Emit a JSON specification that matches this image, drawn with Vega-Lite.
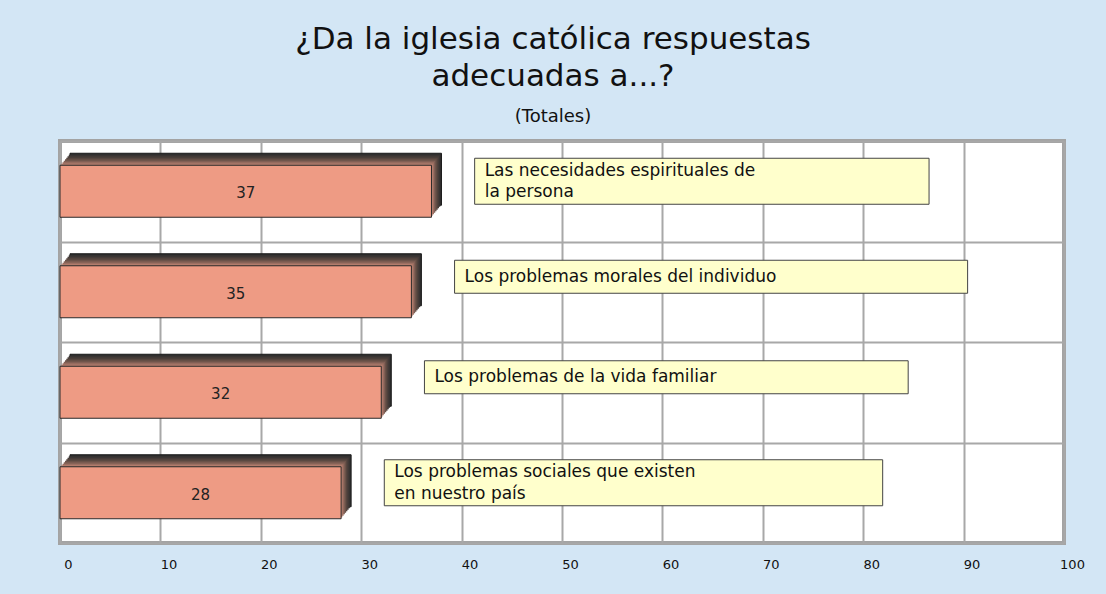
{
  "$schema": "https://vega.github.io/schema/vega-lite/v6.json",
  "width": 1004,
  "height": 402,
  "autosize": "none",
  "padding": {"left": 60, "top": 141, "right": 42, "bottom": 51},
  "background": "#d3e6f5",
  "title": {
    "text": ["¿Da la iglesia católica respuestas", "adecuadas a...?"],
    "subtitle": "(Totales)",
    "anchor": "middle",
    "dx": -9,
    "font": "DejaVu Sans",
    "fontSize": 31,
    "fontWeight": "normal",
    "lineHeight": 37,
    "color": "#111111",
    "subtitleFont": "DejaVu Sans",
    "subtitleFontSize": 18,
    "subtitleColor": "#111111",
    "subtitlePadding": 15,
    "offset": 14
  },
  "config": {
    "view": {"fill": "#ffffff", "stroke": "#a3a3a3", "strokeWidth": 4},
    "axisX": {
      "tickCount": 10,
      "labelFlush": false,
      "labelFont": "DejaVu Sans",
      "labelFontSize": 13,
      "labelColor": "#111111",
      "labelPadding": 15,
      "labelOffset": 8,
      "ticks": false,
      "domain": false,
      "grid": true,
      "gridColor": "#a8a8a8",
      "gridWidth": 2
    },
    "text": {"font": "DejaVu Sans"}
  },
  "data": {
    "values": [
      {"label": "Las necesidades espirituales de\nla persona", "v": 37},
      {"label": "Los problemas morales del individuo", "v": 35},
      {"label": "Los problemas de la vida familiar", "v": 32},
      {"label": "Los problemas sociales que existen\nen nuestro país", "v": 28}
    ]
  },
  "transform": [
    {"calculate": "split(datum.label, '\\n')", "as": "lines"},
    {"calculate": "length(datum.lines)", "as": "n"},
    {"calculate": "datum.n > 1 ? max(length(datum.lines[0]), length(datum.lines[1])) : length(datum.label)", "as": "maxlen"},
    {"calculate": "datum.v / 2", "as": "mid"},
    {"calculate": "datum.v + 4.3", "as": "x0"},
    {"calculate": "datum.x0 + 1.46 * datum.maxlen", "as": "x1"}
  ],
  "encoding": {
    "y": {
      "field": "label",
      "type": "nominal",
      "sort": null,
      "scale": {"paddingInner": 0, "paddingOuter": 0},
      "axis": {"labels": false, "ticks": false, "domain": false, "grid": true, "tickBand": "extent", "gridColor": "#a8a8a8", "gridWidth": 2, "title": null}
    }
  },
  "layer": [
    {"mark": {"type": "bar", "size": 52, "color": "#2e2e2e", "stroke": "#1a1a1a", "strokeWidth": 1, "xOffset": 10, "x2Offset": 10, "yOffset": -12}, "encoding": {"x": {"field": "v", "type": "quantitative", "scale": {"domain": [0, 100], "nice": false}, "title": null}}},
    {"mark": {"type": "bar", "size": 52, "color": "#393433", "xOffset": 8.75, "x2Offset": 8.75, "yOffset": -10.5}, "encoding": {"x": {"field": "v", "type": "quantitative", "scale": {"domain": [0, 100], "nice": false}, "title": null}}},
    {"mark": {"type": "bar", "size": 52, "color": "#463c39", "xOffset": 7.5, "x2Offset": 7.5, "yOffset": -9}, "encoding": {"x": {"field": "v", "type": "quantitative", "scale": {"domain": [0, 100], "nice": false}, "title": null}}},
    {"mark": {"type": "bar", "size": 52, "color": "#56463f", "xOffset": 6.25, "x2Offset": 6.25, "yOffset": -7.5}, "encoding": {"x": {"field": "v", "type": "quantitative", "scale": {"domain": [0, 100], "nice": false}, "title": null}}},
    {"mark": {"type": "bar", "size": 52, "color": "#6a5249", "xOffset": 5, "x2Offset": 5, "yOffset": -6}, "encoding": {"x": {"field": "v", "type": "quantitative", "scale": {"domain": [0, 100], "nice": false}, "title": null}}},
    {"mark": {"type": "bar", "size": 52, "color": "#815f55", "xOffset": 3.75, "x2Offset": 3.75, "yOffset": -4.5}, "encoding": {"x": {"field": "v", "type": "quantitative", "scale": {"domain": [0, 100], "nice": false}, "title": null}}},
    {"mark": {"type": "bar", "size": 52, "color": "#9c6f62", "xOffset": 2.5, "x2Offset": 2.5, "yOffset": -3}, "encoding": {"x": {"field": "v", "type": "quantitative", "scale": {"domain": [0, 100], "nice": false}, "title": null}}},
    {"mark": {"type": "bar", "size": 52, "color": "#b98070", "xOffset": 1.25, "x2Offset": 1.25, "yOffset": -1.5}, "encoding": {"x": {"field": "v", "type": "quantitative", "scale": {"domain": [0, 100], "nice": false}, "title": null}}},
    {"mark": {"type": "bar", "size": 52, "color": "#ee9b84", "stroke": "#2a2a2a", "strokeWidth": 1}, "encoding": {"x": {"field": "v", "type": "quantitative", "scale": {"domain": [0, 100], "nice": false}, "title": null}}},
    {"mark": {"type": "text", "fontSize": 15, "color": "#222222", "align": "center", "baseline": "middle", "dy": 2}, "encoding": {"x": {"field": "mid", "type": "quantitative", "scale": {"domain": [0, 100], "nice": false}, "title": null}, "text": {"field": "v", "type": "quantitative"}}},
    {"transform": [{"filter": "datum.n == 1"}], "mark": {"type": "bar", "size": 33, "color": "#ffffcc", "stroke": "#444444", "strokeWidth": 1, "yOffset": -15}, "encoding": {"x": {"field": "x0", "type": "quantitative", "scale": {"domain": [0, 100], "nice": false}, "title": null}, "x2": {"field": "x1"}}},
    {"transform": [{"filter": "datum.n > 1"}], "mark": {"type": "bar", "size": 46, "color": "#ffffcc", "stroke": "#444444", "strokeWidth": 1, "yOffset": -10}, "encoding": {"x": {"field": "x0", "type": "quantitative", "scale": {"domain": [0, 100], "nice": false}, "title": null}, "x2": {"field": "x1"}}},
    {"transform": [{"filter": "datum.n == 1"}], "mark": {"type": "text", "fontSize": 17, "color": "#111111", "align": "left", "baseline": "middle", "dx": 10, "dy": -15}, "encoding": {"x": {"field": "x0", "type": "quantitative", "scale": {"domain": [0, 100], "nice": false}, "title": null}, "text": {"field": "label", "type": "nominal"}}},
    {"transform": [{"filter": "datum.n > 1"}], "mark": {"type": "text", "fontSize": 17, "color": "#111111", "align": "left", "baseline": "middle", "dx": 10, "dy": -20.5, "lineHeight": 21.5}, "encoding": {"x": {"field": "x0", "type": "quantitative", "scale": {"domain": [0, 100], "nice": false}, "title": null}, "text": {"field": "lines", "type": "nominal"}}}
  ]
}
